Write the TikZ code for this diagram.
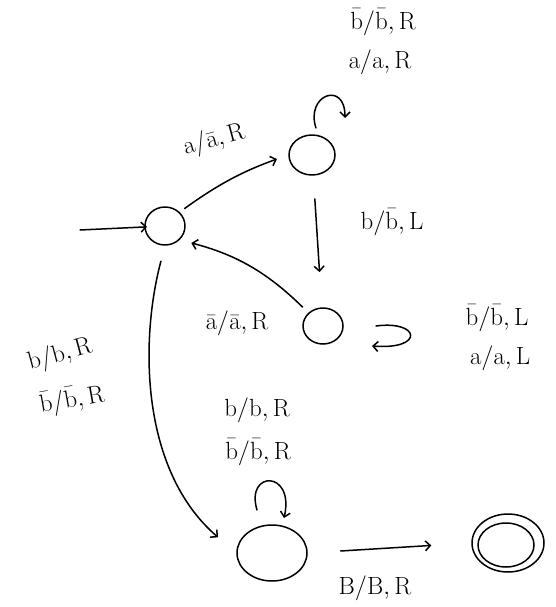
\documentclass[tikz,border=0pt]{standalone}
\usetikzlibrary{arrows.meta,shapes.geometric}
\begin{document}
\begin{tikzpicture}[x=1pt,y=-1pt,
  line width=1.5pt, line cap=round, line join=round,
  arr/.style={-{Straight Barb[length=5pt,width=10pt]}},
  st/.style={draw, ellipse, inner sep=0pt, minimum width=40pt, minimum height=38pt},
  stbig/.style={draw, ellipse, inner sep=0pt, minimum width=70pt, minimum height=56pt},
  lab/.style={font=\fontsize{27}{30}\selectfont, inner sep=0pt}]
\useasboundingbox (0,0) rectangle (556,607);
% states
\node[st] (q0) at (165,226) {};
\node[st, minimum width=46pt, minimum height=40pt] (q1) at (312,155) {};
\node[st, minimum width=40pt, minimum height=36pt] (q2) at (323,326) {};
\node[stbig] (q3) at (272,553) {};
\node[stbig, minimum width=72pt, minimum height=58pt] (q4) at (508,543) {};
\node[draw, ellipse, inner sep=0pt, minimum width=56pt, minimum height=44pt] (q4i) at (506,545) {};
% start arrow
\coordinate (s) at (80,230);
\draw[arr, shorten >=18pt] (s) -- (q0.center);
% q0 -> q1
\draw[arr, shorten <=6pt, shorten >=12pt] (q0.north east) to[bend left=8] (q1.west);
\node[lab, rotate=15] (l01) at (214,140) {$\mathrm{a/\bar{a},R}$};
% q1 loop
\coordinate (l1a) at (316,128);
\coordinate (l1b) at (345,118);
\draw[arr] (l1a) .. controls (305,95) and (345,80) .. (l1b);
\node[lab] (l1t) at (383,22) {$\mathrm{\bar{b}/\bar{b},R}$};
\node[lab] (l1u) at (380,62) {$\mathrm{a/a,R}$};
% q1 -> q2
\draw[arr, shorten <=44pt, shorten >=54pt] (q1.center) -- (q2.center);
\node[lab] (l12) at (392,222) {$\mathrm{b/\bar{b},L}$};
% q2 -> q0
\draw[arr, shorten <=8pt, shorten >=12pt] (q2.north west) to[bend right=15] (q0.south east);
\node[lab] (l20) at (237,323) {$\mathrm{\bar{a}/\bar{a},R}$};
% q2 loop
\coordinate (l2a) at (376,326);
\coordinate (l2b) at (372,346);
\draw[arr] (l2a) .. controls (420,320) and (425,350) .. (l2b);
\node[lab] (l2t) at (497,318) {$\mathrm{\bar{b}/\bar{b},L}$};
\node[lab] (l2u) at (500,358) {$\mathrm{a/a,L}$};
% q0 -> q3
\draw[arr, shorten <=16pt, shorten >=24pt] (q0.south) .. controls (140,340) and (140,470) .. (q3.west);
\node[lab, rotate=15] (l03a) at (60,355) {$\mathrm{b/b,R}$};
\node[lab, rotate=10] (l03b) at (72,400) {$\mathrm{\bar{b}/\bar{b},R}$};
% q3 loop
\coordinate (l3a) at (257,510);
\coordinate (l3b) at (284,518);
\draw[arr] (l3a) .. controls (245,470) and (295,470) .. (l3b);
\node[lab] (l3t) at (257,410) {$\mathrm{b/b,R}$};
\node[lab] (l3u) at (258,452) {$\mathrm{\bar{b}/\bar{b},R}$};
% q3 -> q4
\draw[arr, shorten <=33pt, shorten >=40pt] (q3.east) -- (q4.west);
\node[lab] (l34) at (375,588) {$\mathrm{B/B,R}$};
\end{tikzpicture}
\end{document}
